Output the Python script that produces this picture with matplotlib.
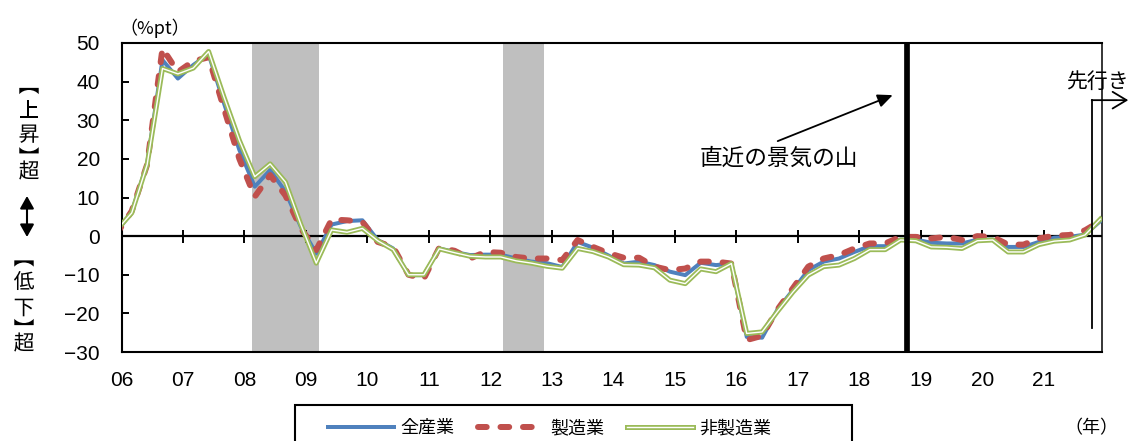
import numpy as np
import pandas as pd
import matplotlib
matplotlib.use("Agg")
import matplotlib.pyplot as plt
from matplotlib import patheffects as pe
from matplotlib.patches import Rectangle
from matplotlib.textpath import TextPath
from matplotlib.font_manager import FontProperties

# ---- data -------------------------------------------------------------
# quarterly survey points, Dec-2005 .. Dec-2021 (the last one is the outlook)
quarters = pd.period_range("2005Q4", "2021Q4", freq="Q")

all_industries = [
    1.0,
    6.3, 18.8, 45.6, 40.8,
    44.3, 47.1, 34.4, 22.3,
    12.8, 17.1, 11.5, 2.4,
    -4.5, 3.0, 3.9, 4.1,
    -1.0, -3.2, -10.1, -10.1,
    -3.2, -4.1, -4.9, -4.8,
    -4.8, -5.8, -6.6, -7.0,
    -8.0, -1.5, -3.0, -5.0,
    -7.1, -6.6, -7.5, -9.2,
    -10.1, -6.9, -7.5, -7.1,
    -26.1, -26.3, -19.0, -14.0,
    -8.8, -6.6, -5.8, -4.1,
    -2.6, -2.6, -0.9, -0.9,
    -1.7, -1.9, -1.9, -0.9,
    -0.9, -2.8, -2.8, -1.5,
    -0.4, -0.2, 0.4, 3.9,
]

manufacturing = [
    0.5,
    6.5, 18.5, 48.6, 42.5,
    45.3, 46.3, 33.0, 20.0,
    10.2, 15.8, 10.5, 2.0,
    -3.6, 4.3, 4.1, 3.7,
    -1.5, -2.8, -10.0, -11.0,
    -3.0, -3.8, -5.8, -4.1,
    -4.3, -5.4, -5.8, -5.8,
    -6.2, -1.0, -2.8, -4.4,
    -5.6, -5.6, -7.9, -8.8,
    -8.4, -6.6, -6.6, -7.1,
    -26.9, -25.8, -19.0, -13.5,
    -7.9, -5.8, -4.9, -3.2,
    -1.9, -1.9, -0.2, -0.2,
    -0.6, -0.2, -1.0, 0.0,
    -0.2, -2.2, -2.2, -0.6,
    0.1, 0.3, 1.5, 3.9,
]

non_manufacturing = [
    1.5,
    6.0, 18.5, 43.4, 42.0,
    43.5, 47.8, 36.0, 24.8,
    15.4, 18.7, 14.0, 3.0,
    -7.0, 1.6, 1.0, 2.0,
    -1.2, -3.5, -10.0, -10.0,
    -3.3, -4.3, -5.2, -5.4,
    -5.4, -6.4, -7.0, -7.8,
    -8.3, -3.2, -4.0, -5.4,
    -7.4, -7.5, -8.2, -11.4,
    -12.3, -8.5, -9.2, -7.1,
    -25.2, -24.8, -19.5, -14.5,
    -10.1, -7.9, -7.5, -5.8,
    -3.5, -3.5, -1.0, -1.2,
    -2.8, -2.9, -3.2, -1.2,
    -1.0, -4.1, -4.1, -2.2,
    -1.3, -1.0, 0.3, 4.4,
]

series_names = ["全産業", "製造業", "非製造業"]
recessions = [(2008.125, 2009.208), (2012.208, 2012.875)]
latest_peak = 2018.77
outlook_start = 2021.776
years = list(range(2006, 2022))
year_labels = [f"{y % 100:02d}" for y in years]
y_ticks = list(range(-30, 51, 10))

# ---- layout helpers ---------------------------------------------------
W, H = 1130, 441
DPI = 100
PX = 72 / DPI  # points per pixel
JP = ["Noto Sans CJK JP", "DejaVu Sans"]
NUM = ["Liberation Sans", "DejaVu Sans"]

BLUE = "#4F81BD"
RED = "#C0504D"
GREEN = "#9BBB59"


def fx(px):
    return px / W


def fy(py):
    return 1 - py / H


# decimal-year position of each quarter (placed on its closing month)
t = np.array([q.year + (q.end_time.month - 1) / 12 for q in quarters])

fig = plt.figure(figsize=(W / DPI, H / DPI), dpi=DPI)
ax = fig.add_axes([fx(121.5), fy(352), fx(1101.5) - fx(121.5), fy(43) - fy(352)])
ax.set_xlim(2006.0, 2021.935)
ax.set_ylim(-30, 50)

# recession periods
for start, end in recessions:
    ax.axvspan(start, end, color="#BFBFBF", lw=0, zorder=0)

# zero line with crossing year ticks
ax.axhline(0, color="black", lw=1.6, zorder=1.5)
half_tick = 6.5 * 80 / 309
ax.vlines(years[1:], -half_tick, half_tick, color="black", lw=1.4, zorder=1.5)

# series
l_all, = ax.plot(t, all_industries, color=BLUE, lw=4 * PX, zorder=3,
                 solid_joinstyle="round", label=series_names[0])
l_mfg, = ax.plot(t, manufacturing, color=RED, lw=6 * PX, zorder=3.2,
                 dash_capstyle="round", label=series_names[1])
l_mfg.set_dashes((1.45, 2.3))
l_non, = ax.plot(t, non_manufacturing, color="white", lw=1.4 * PX, zorder=3.4,
                 label=series_names[2],
                 path_effects=[pe.Stroke(linewidth=5 * PX, foreground=GREEN),
                               pe.Normal()])

# latest business-cycle peak
ax.axvline(latest_peak, color="black", lw=5.7 * PX, zorder=4)

# axes styling
for side in ["left", "right", "top", "bottom"]:
    ax.spines[side].set_color("black")
    ax.spines[side].set_linewidth(1.5)
ax.spines["right"].set_linewidth(1.1)

ax.set_yticks(y_ticks)
ax.set_yticklabels([f"{v}".replace("-", "\u2212") for v in y_ticks],
                   family=NUM, fontsize=15)
ax.tick_params(axis="y", direction="in", length=5, width=1.4, pad=15.5)
ax.set_xticks(years)
ax.set_xticklabels(year_labels, family=NUM, fontsize=15)
ax.tick_params(axis="x", length=0, pad=14)

# annotations
ax.annotate("", xy=(2018.54, 36.5), xytext=(2016.67, 24.6),
            arrowprops=dict(arrowstyle="-|>,head_length=0.45,head_width=0.2",
                            mutation_scale=20, color="black", lw=1.3,
                            shrinkA=0, shrinkB=0), zorder=5)
ax.text(2016.69, 20.2, "直近の景気の山", family=JP, fontsize=16.3,
        ha="center", va="center", zorder=5)

ax.plot([outlook_start, outlook_start], [-23.8, 35.2], color="black", lw=1.3,
        zorder=5, clip_on=False)
ax.annotate("", xy=(2022.37, 35.2), xytext=(outlook_start, 35.2),
            arrowprops=dict(arrowstyle="->,head_length=0.5,head_width=0.3",
                            mutation_scale=20, color="black", lw=1.3,
                            shrinkA=0, shrinkB=0),
            annotation_clip=False, zorder=5)
fig.text(fx(1097), fy(82), "先行き", family=JP, fontsize=15,
         ha="center", va="center")

fig.text(fx(155), fy(28), "（%pt）", family=JP, fontsize=13,
         ha="center", va="center")
fig.text(fx(1091), fy(428), "（年）", family=JP, fontsize=13,
         ha="center", va="center")


# vertical side labels: every character is placed so that its glyph ink is
# centred on the given pixel position; brackets are turned a quarter turn
side_font = FontProperties(family="Noto Sans CJK JP", size=15)


def put_glyph(ch, cx, cy, rotation=0):
    ext = TextPath((0, 0), ch, prop=side_font).get_extents()
    ux = (ext.x0 + ext.x1) / 2 / PX
    uy = (ext.y0 + ext.y1) / 2 / PX
    a = np.radians(rotation)
    rx = ux * np.cos(a) - uy * np.sin(a)
    ry = ux * np.sin(a) + uy * np.cos(a)
    fig.text((cx - rx) / W, (H - cy - ry) / H, ch, fontproperties=side_font,
             rotation=rotation, rotation_mode="anchor", ha="left",
             va="baseline", path_effects=[pe.Normal()])


upper = [("【", 91), ("上", 108.7), ("昇", 133.7), ("】", 150.3), ("超", 170)]
lower = [("【", 263.5), ("低", 280.5), ("下", 307.5), ("】", 322), ("超", 342)]
for x_px, group in ((29, upper), (24, lower)):
    for ch, py in group:
        put_glyph(ch, x_px, py, 270 if ch in "【】" else 0)

ax.annotate("", xy=(27, H - 196), xytext=(27, H - 237),
            xycoords="figure pixels", textcoords="figure pixels",
            arrowprops=dict(arrowstyle="<|-|>,head_length=0.5,head_width=0.28",
                            mutation_scale=15, color="black", lw=1.5,
                            shrinkA=0, shrinkB=0),
            annotation_clip=False)

# legend box (open at the bottom edge of the figure)
fig.patches.append(Rectangle((fx(295), fy(460)), fx(852) - fx(295),
                             fy(405) - fy(460), transform=fig.transFigure,
                             facecolor="white", edgecolor="black", lw=1.5,
                             zorder=0))
fig.legend(handles=[l_all, l_mfg, l_non], labels=series_names, ncol=3,
           loc="center left", bbox_to_anchor=(fx(328), fy(428)),
           frameon=False, borderpad=0, borderaxespad=0,
           handlelength=3.65, handletextpad=0.35, columnspacing=1.3,
           prop={"family": JP, "size": 13})

fig.savefig("out.png", dpi=DPI)
